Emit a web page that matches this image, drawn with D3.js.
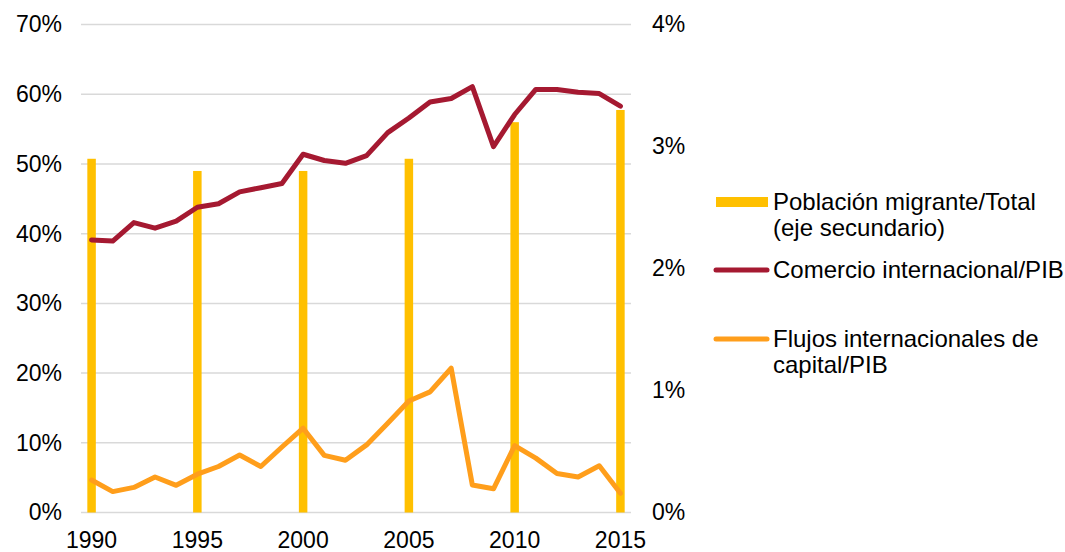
<!DOCTYPE html>
<html>
<head>
<meta charset="utf-8">
<script src="https://cdn.jsdelivr.net/npm/d3@7"></script>
<style>
	body { margin: 0; background: #fff; }
	svg { display: block; font-family: "Liberation Sans", Arial, sans-serif; }
</style>
</head>
<body>
<svg id="chart" width="1065" height="552"></svg>
<script>
const years = d3.range(1990, 2016);
const comercio = [39.1, 38.95, 41.6, 40.8, 41.8, 43.8, 44.3, 46.0, 46.6, 47.2, 51.4, 50.5, 50.1, 51.2, 54.5, 56.6, 58.9, 59.4, 61.1, 52.5, 57.1, 60.7, 60.7, 60.3, 60.1, 58.3];
const flujos = [4.66, 3.0, 3.6, 5.1, 3.9, 5.5, 6.6, 8.25, 6.6, 9.4, 12.1, 8.2, 7.5, 9.7, 12.8, 16.0, 17.3, 20.7, 3.95, 3.4, 9.6, 7.8, 5.6, 5.1, 6.7, 2.75];
const migrantYears = [1990, 1995, 2000, 2005, 2010, 2015];
const migrantes = [2.9, 2.8, 2.8, 2.9, 3.2, 3.3];
const leftTicks = [0, 10, 20, 30, 40, 50, 60, 70];
const rightTicks = [0, 1, 2, 3, 4];
const xLabels = [1990, 1995, 2000, 2005, 2010, 2015];
const legendLabels = [
	["Población migrante/Total", "(eje secundario)"],
	["Comercio internacional/PIB"],
	["Flujos internacionales de", "capital/PIB"]
];

const colors = {bar: "#FFC000", comercio: "#A51931", flujos: "#FF9E1B", grid: "#d9d9d9"};
const fontSize = "23px";
const legendFontSize = "24px";

const svg = d3.select("#chart");
const margin = {top: 24.6, right: 434, bottom: 39.5, left: 81};
const width = 1065 - margin.left - margin.right;
const height = 552 - margin.top - margin.bottom;

const g = svg.append("g").attr("transform", `translate(${margin.left}, ${margin.top})`);

const x = d3.scaleBand().domain(years).range([0, width]).padding(0);
const yL = d3.scaleLinear().domain([0, 70]).range([height, 0]);
const yR = d3.scaleLinear().domain([0, 4]).range([height, 0]);
const cx = (yr) => x(yr) + x.bandwidth() / 2;

// gridlines
g.append("g")
.selectAll("line")
.data(leftTicks)
.enter()
.append("line")
.attr("x1", 0)
.attr("x2", width)
.attr("y1", (d) => yL(d))
.attr("y2", (d) => yL(d))
.attr("stroke", colors.grid)
.attr("stroke-width", 1.5);

// left axis labels
const leftAxis = g.append("g").call(d3.axisLeft(yL).tickValues(leftTicks).tickFormat((d) => `${d}%`).tickSize(0).tickPadding(19));
leftAxis.select(".domain").remove();
leftAxis.selectAll("text").attr("font-size", fontSize).attr("font-family", null).attr("fill", "#000");

// right axis labels
const rightAxis = g.append("g")
.attr("transform", `translate(${width}, 0)`)
.call(d3.axisRight(yR).tickValues(rightTicks).tickFormat((d) => `${d}%`).tickSize(0).tickPadding(21));
rightAxis.select(".domain").remove();
rightAxis.selectAll("text").attr("font-size", fontSize).attr("font-family", null).attr("fill", "#000");

// bottom axis labels
const bottomAxis = g.append("g")
.attr("transform", `translate(0, ${height})`)
.call(d3.axisBottom(x).tickValues(xLabels).tickSize(0).tickPadding(19));
bottomAxis.select(".domain").remove();
bottomAxis.selectAll("text").attr("font-size", fontSize).attr("font-family", null).attr("fill", "#000");

// bars (secondary axis)
const barW = 8.5;
g.append("g")
.selectAll("rect")
.data(migrantYears.map((yr, i) => [yr, migrantes[i]]))
.enter()
.append("rect")
.attr("x", ([yr]) => cx(yr) - barW / 2)
.attr("width", barW)
.attr("y", ([, v]) => yR(v))
.attr("height", ([, v]) => height - yR(v))
.attr("fill", colors.bar);

// lines
const line = d3.line().x((d) => cx(d[0])).y((d) => yL(d[1]));

[[comercio, colors.comercio], [flujos, colors.flujos]].forEach(([vals, color]) => {
	g.append("path")
	.datum(years.map((yr, i) => [yr, vals[i]]))
	.attr("d", line)
	.attr("fill", "none")
	.attr("stroke", color)
	.attr("stroke-width", 5)
	.attr("stroke-linejoin", "round")
	.attr("stroke-linecap", "round");
});

// legend
const legend = svg.append("g");
const legendItems = [
	{y: 202, color: colors.bar, type: "rect", textY: 210},
	{y: 270, color: colors.comercio, type: "line", textY: 278},
	{y: 339, color: colors.flujos, type: "line", textY: 347}
];

legendItems.forEach((item, i) => {
	if (item.type === "rect") {
		legend.append("rect")
		.attr("x", 716)
		.attr("y", item.y - 5)
		.attr("width", 52)
		.attr("height", 10)
		.attr("fill", item.color);
	} else {
		legend.append("line")
		.attr("x1", 716)
		.attr("x2", 767)
		.attr("y1", item.y)
		.attr("y2", item.y)
		.attr("stroke", item.color)
		.attr("stroke-width", 5)
		.attr("stroke-linecap", "round");
	}

	legend.append("text")
	.attr("x", 773)
	.attr("y", item.textY)
	.attr("font-size", legendFontSize)
	.attr("fill", "#000")
	.selectAll("tspan")
	.data(legendLabels[i])
	.enter()
	.append("tspan")
	.attr("x", 773)
	.attr("dy", (d, j) => j === 0 ? 0 : 26)
	.text((d) => d);
});
</script>
</body>
</html>
